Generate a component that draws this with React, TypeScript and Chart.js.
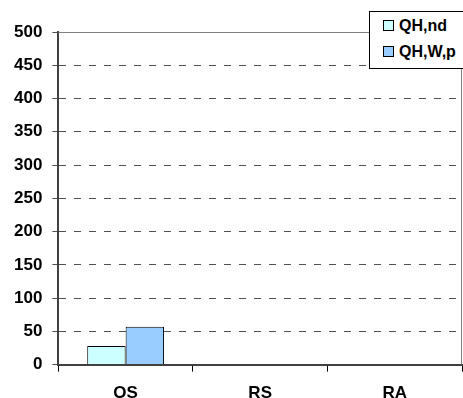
import React, { useEffect, useRef } from "react";
import { Chart, registerables } from "chart.js";

Chart.register(...registerables);

const categories = ["OS", "RS", "RA"];
const seriesNames = ["QH,nd", "QH,W,p"];
const qhNd = [28, null, null];
const qhWp = [57, null, null];
const seriesColors = ["#CCFFFF", "#99CCFF"];
const yMin = 0;
const yMax = 500;
const yStep = 50;

const FONT = "'Liberation Sans', Arial, sans-serif";

const framePlugin = {
  id: "frame",
  afterDraw(chart: any) {
    const { ctx, chartArea } = chart;
    ctx.save();
    ctx.strokeStyle = "#808080";
    ctx.lineWidth = 1;
    ctx.beginPath();
    ctx.moveTo(chartArea.left, chartArea.top + 0.5);
    ctx.lineTo(chartArea.right, chartArea.top + 0.5);
    ctx.moveTo(chartArea.right - 0.5, chartArea.top);
    ctx.lineTo(chartArea.right - 0.5, chartArea.bottom);
    ctx.stroke();
    ctx.restore();
  },
};

export default function App() {
  const canvasRef = useRef<HTMLCanvasElement>(null);

  useEffect(() => {
    if (!canvasRef.current) return;
    const chart = new Chart(canvasRef.current, {
      type: "bar",
      data: {
        labels: categories,
        datasets: [
          {
            label: seriesNames[0],
            data: qhNd,
            backgroundColor: seriesColors[0],
            borderColor: "#000000",
            borderWidth: 1,
            categoryPercentage: 0.571,
            barPercentage: 1,
          },
          {
            label: seriesNames[1],
            data: qhWp,
            backgroundColor: seriesColors[1],
            borderColor: "#000000",
            borderWidth: 1,
            categoryPercentage: 0.571,
            barPercentage: 1,
          },
        ],
      },
      options: {
        animation: false,
        responsive: false,
        maintainAspectRatio: false,
        layout: { padding: { left: 4, right: 1, top: 32, bottom: -18 } },
        plugins: {
          legend: { display: false },
          tooltip: { enabled: false },
        },
        scales: {
          x: {
            grid: {
              display: true,
              drawOnChartArea: false,
              drawTicks: true,
              tickLength: 7,
              color: "#000000",
              offset: true,
            },
            border: { display: true, color: "#404040", width: 2 },
            ticks: {
              color: "#000000",
              padding: 12,
              font: { family: FONT, size: 17, weight: "bold" },
            },
          },
          y: {
            min: yMin,
            max: yMax,
            grid: {
              color: "#505050",
              lineWidth: 1,
              tickLength: 6,
              drawTicks: true,
            },
            border: { display: true, color: "#404040", width: 2, dash: [7, 8] },
            ticks: {
              stepSize: yStep,
              color: "#000000",
              padding: 10,
              font: { family: FONT, size: 17, weight: "bold" },
            },
          },
        },
      },
      plugins: [framePlugin],
    });
    return () => chart.destroy();
  }, []);

  const swatch = (c: string) => ({
    display: "inline-block",
    width: 9,
    height: 9,
    background: c,
    border: "1px solid #000",
    marginRight: 5,
    verticalAlign: "middle",
  });

  return (
    <div style={{ position: "fixed", left: 0, top: 0, width: 463, height: 398, background: "#fff" }}>
      <canvas ref={canvasRef} width={463} height={398} style={{ display: "block" }} />
      <div
        style={{
          position: "absolute",
          left: 369,
          top: 11,
          width: 100,
          height: 58,
          border: "1px solid #000",
          background: "#fff",
          fontFamily: FONT,
          fontWeight: "bold",
          fontSize: 16,
          color: "#000",
          boxSizing: "border-box",
        }}
      >
        {seriesNames.map((n, i) => (
          <div
            key={n}
            style={{
              position: "absolute",
              left: 13,
              top: i === 0 ? 3 : 29,
              whiteSpace: "nowrap",
              lineHeight: "20px",
            }}
          >
            <span style={swatch(seriesColors[i])} />
            <span style={{ verticalAlign: "middle" }}>{n}</span>
          </div>
        ))}
      </div>
    </div>
  );
}
